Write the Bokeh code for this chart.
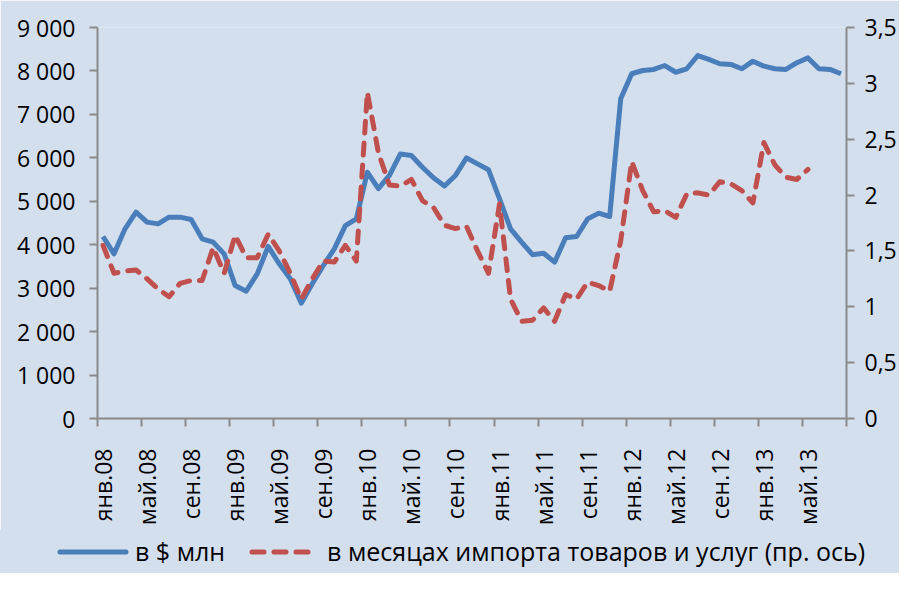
from bokeh.plotting import figure
from bokeh.layouts import column
from bokeh.models import (Range1d, LinearAxis, FixedTicker, CustomJSTickFormatter,
                          ColumnDataSource, Div)
from bokeh.embed import file_html
from bokeh.resources import INLINE

month_names = ["янв", "фев", "мар", "апр", "май", "июн", "июл", "авг", "сен", "окт", "ноя", "дек"]
years = ["08", "09", "10", "11", "12", "13"]
months = [f"{m}.{y}" for y in years for m in month_names][:68]

reserves_usd = [4190, 3790, 4367, 4750, 4520, 4480, 4635, 4635, 4580, 4135, 4060, 3790,
                3060, 2930, 3330, 3960, 3560, 3215, 2655, 3100, 3520, 3905, 4440, 4595,
                5670, 5290, 5595, 6090, 6055, 5785, 5540, 5350, 5595, 6000, 5860, 5725,
                5055, 4365, 4060, 3770, 3805, 3600, 4160, 4190, 4595, 4725, 4650, 7360,
                7935, 8010, 8035, 8125, 7970, 8050, 8355, 8265, 8165, 8150, 8050, 8225,
                8110, 8050, 8035, 8190, 8300, 8050, 8035, 7935]

import_months = [1.55, 1.30, 1.32, 1.33, 1.25, 1.16, 1.09, 1.21, 1.235, 1.235, 1.53, 1.30,
                 1.64, 1.44, 1.44, 1.65, 1.50, 1.30, 1.07, 1.25, 1.41, 1.40, 1.55, 1.41,
                 2.92, 2.38, 2.09, 2.08, 2.14, 1.95, 1.89, 1.73, 1.70, 1.72, 1.50, 1.30,
                 1.92, 1.07, 0.87, 0.88, 0.99, 0.87, 1.11, 1.07, 1.22, 1.19, 1.14, 1.59,
                 2.30, 2.04, 1.85, 1.86, 1.80, 2.01, 2.02, 2.00, 2.12, 2.10, 2.04, 1.93,
                 2.47, 2.27, 2.16, 2.14, 2.23]

left_ticks = [0, 1000, 2000, 3000, 4000, 5000, 6000, 7000, 8000, 9000]
right_ticks = [0, 0.5, 1, 1.5, 2, 2.5, 3, 3.5]
label_step = 4
series_names = ["в $ млн", "в месяцах импорта товаров и услуг (пр. ось)"]

BG = "#d4dfee"
AXIS = "#8a8a8a"
BLUE = "#4a7ebb"
RED = "#c0504d"
FONT = "Open Sans"
FS_Y = "23px"
FS_X = "23px"
FS_L = "25px"
W, H_MAIN, H_LEG = 899, 530, 43

src_usd = ColumnDataSource(dict(x=list(range(len(reserves_usd))), y=reserves_usd))
src_imp = ColumnDataSource(dict(x=list(range(len(import_months))), y=import_months))

p = figure(width=W, height=H_MAIN, output_backend="svg", toolbar_location=None,
           x_range=Range1d(-0.5, len(months) - 0.5), y_range=Range1d(0, 9000),
           min_border_left=97, min_border_right=50, min_border_top=27, min_border_bottom=112)
p.background_fill_color = BG
p.border_fill_color = BG
p.outline_line_color = None
p.xgrid.visible = False
p.ygrid.visible = False
p.extra_y_ranges = {"r": Range1d(0, 3.5)}

p.line("x", "y", source=src_usd, line_color=BLUE, line_width=5, line_join="round")
p.line("x", "y", source=src_imp, y_range_name="r", line_color=RED, line_width=5,
       line_dash="12 10", line_cap="round", line_join="round")

# x axis
xa = p.xaxis[0]
xa.ticker = FixedTicker(ticks=list(range(0, len(months), label_step)),
                        minor_ticks=[i - 0.5 for i in range(0, len(months) + 1, label_step)])
xa.formatter = CustomJSTickFormatter(args=dict(labels=months),
                                     code="return labels[Math.round(tick)] || ''")
xa.major_label_orientation = 3.14159265 / 2
xa.major_tick_out = 0
xa.major_tick_in = 0
xa.minor_tick_out = 8
xa.minor_tick_in = 0
xa.minor_tick_line_color = AXIS
xa.minor_tick_line_width = 2
xa.axis_line_color = AXIS
xa.axis_line_width = 2
xa.major_label_standoff = 22
xa.major_label_text_font = FONT
xa.major_label_text_font_size = FS_X
xa.major_label_text_color = "black"

# left axis
ya = p.yaxis[0]
ya.ticker = FixedTicker(ticks=left_ticks)
ya.formatter = CustomJSTickFormatter(code="return Math.round(tick).toString().replace(/\\B(?=(\\d{3})+(?!\\d))/g, ' ')")
ya.major_tick_out = 8
ya.major_tick_in = 0
ya.minor_tick_line_color = None
ya.major_tick_line_color = AXIS
ya.major_tick_line_width = 2
ya.axis_line_color = AXIS
ya.axis_line_width = 2
ya.major_label_standoff = 14
ya.major_label_text_font = FONT
ya.major_label_text_font_size = FS_Y
ya.major_label_text_color = "black"

# right axis
ra = LinearAxis(y_range_name="r", ticker=FixedTicker(ticks=right_ticks),
                formatter=CustomJSTickFormatter(code="return tick.toString().replace('.', ',')"))
ra.major_tick_out = 8
ra.major_tick_in = 0
ra.minor_tick_line_color = None
ra.major_tick_line_color = AXIS
ra.major_tick_line_width = 2
ra.axis_line_color = AXIS
ra.axis_line_width = 2
ra.major_label_standoff = 10
ra.major_label_text_font = FONT
ra.major_label_text_font_size = FS_Y
ra.major_label_text_color = "black"
p.add_layout(ra, "right")

# legend strip
def sample(color, dash):
    dash_attr = f' stroke-dasharray="{dash}"' if dash else ""
    return (f'<svg width="72" height="12" style="display:block">'
            f'<line x1="3" y1="6" x2="69" y2="6" stroke="{color}" stroke-width="5" '
            f'stroke-linecap="round"{dash_attr}/></svg>')

legend_html = (
    f'<div style="display:flex;align-items:center;width:{W}px;height:{H_LEG}px;'
    f'background:{BG};font-family:\'{FONT}\';font-size:{FS_L};color:black;'
    f'white-space:nowrap;box-sizing:border-box;padding-left:57px;margin:0">'
    f'{sample(BLUE, None)}<span style="margin-left:6px">{series_names[0]}</span>'
    f'<span style="margin-left:24px">{sample(RED, "12 10")}</span>'
    f'<span style="margin-left:6px">{series_names[1]}</span></div>'
)
leg = Div(text=legend_html, width=W, height=H_LEG, margin=0,
          styles={"background-color": BG, "margin": "0", "padding": "0"})

layout = column(p, leg, spacing=0)

open("out.html", "w").write(file_html(layout, INLINE))
